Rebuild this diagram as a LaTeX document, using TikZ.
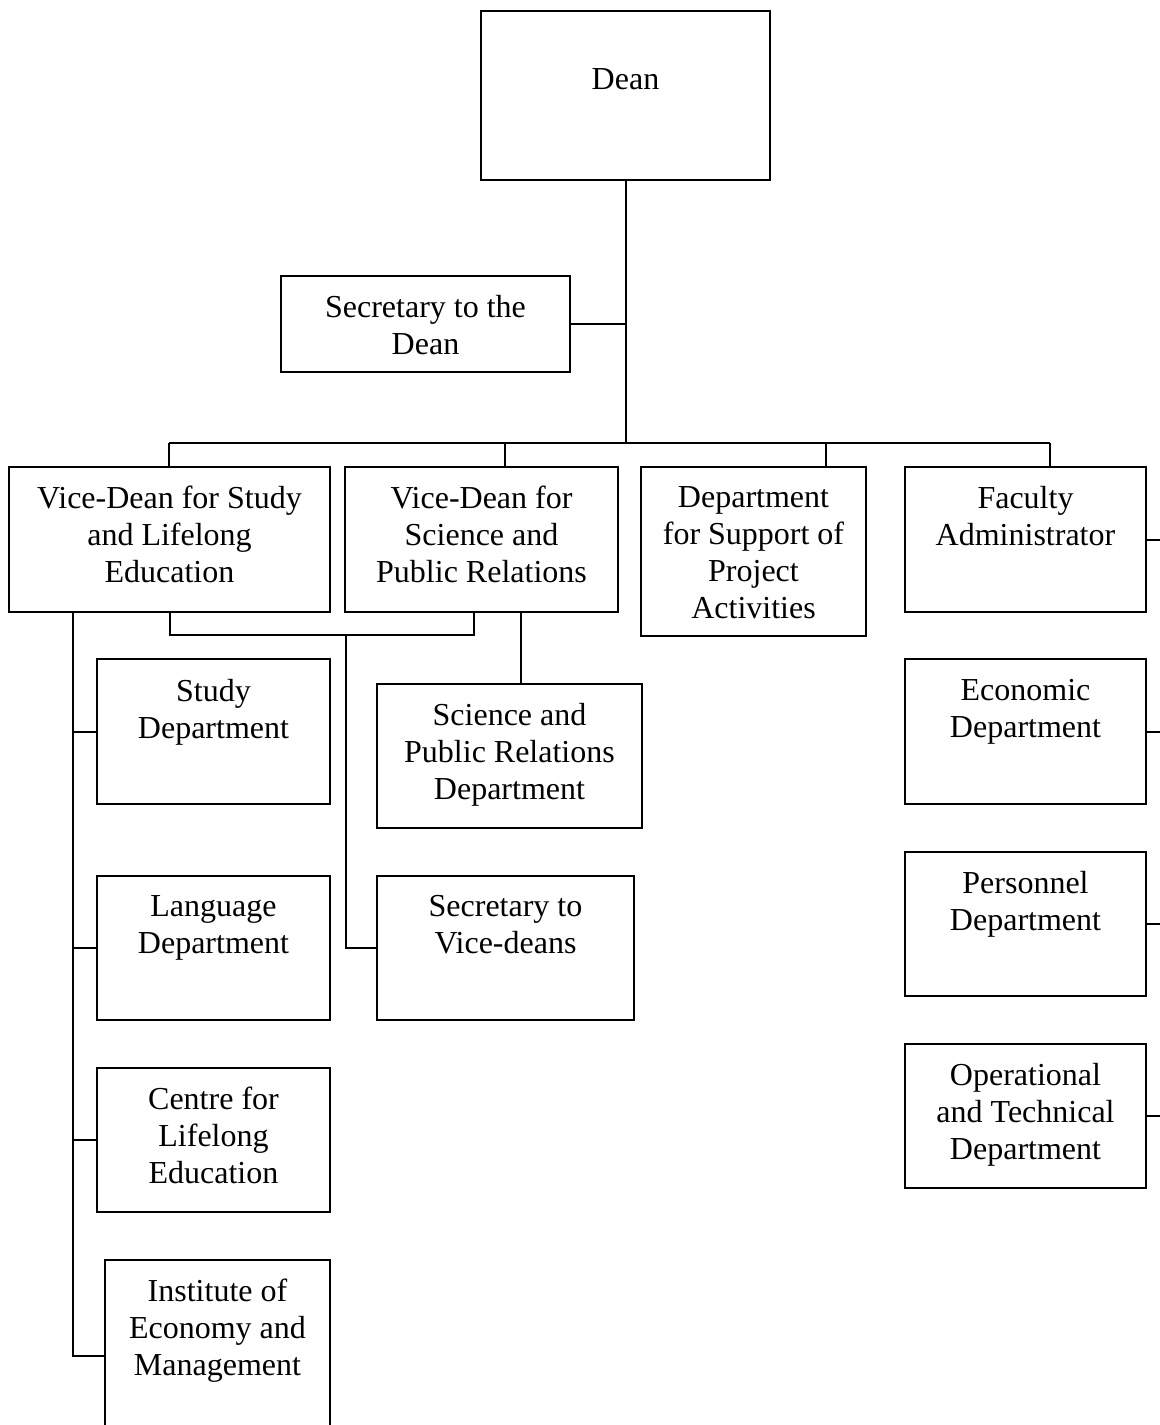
\documentclass[tikz,border=0pt]{standalone}
\usepackage{fontspec}
\setmainfont{Liberation Serif}
\usetikzlibrary{fit,calc}
\tikzset{
  box/.style={draw=black, line width=1.5pt, inner sep=0pt, fill=white},
  lbl/.style={inner sep=0pt, align=center, font=\fontsize{24}{27.75}\selectfont, execute at begin node=\strut},
  conn/.style={draw=black, line width=1.5pt}
}
\newcommand\orgbox[7]{%
  \coordinate (#1-nw) at (#2,#3);
  \coordinate (#1-se) at (#4,#5);
  \node[box, fit=(#1-nw)(#1-se)] (#1) {};
  \node[lbl, anchor=north] (#1-t) at ({(#2+#4)/2},{#6-11}) {#7};
}
\begin{document}
\begin{tikzpicture}[x=0.75pt,y=-0.75pt]
\useasboundingbox (0,0) rectangle (1160,1425);
\clip (0,0) rectangle (1160,1425);
\fill[white] (0,0) rectangle (1160,1425);

\coordinate (busL) at (169,443);
\coordinate (busR) at (1050,443);
\coordinate (d2) at (505,443);
\coordinate (d3) at (826,443);
\coordinate (j1) at (474,635);
\coordinate (j2) at (346,635);
\coordinate (x521) at (521,0);
\coordinate (spine) at (73,0);
\coordinate (redge) at (1160,0);

\orgbox{dean}{481}{11}{770}{180}{74}{Dean}
\orgbox{sec}{281}{276}{570}{372}{306}{Secretary to the\\Dean}
\orgbox{vds}{9}{467}{330}{612}{497}{Vice-Dean for Study\\and Lifelong\\Education}
\orgbox{vdsc}{345}{467}{618}{612}{497}{Vice-Dean for\\Science and\\Public Relations}
\orgbox{dsp}{641}{467}{866}{636}{497}{Department\\for Support of\\Project\\Activities}
\orgbox{fa}{905}{467}{1146}{612}{497}{Faculty\\Administrator}
\orgbox{study}{97}{659}{330}{804}{690}{Study\\Department}
\orgbox{spr}{377}{684}{642}{828}{714}{Science and\\Public Relations\\Department}
\orgbox{lang}{97}{876}{330}{1020}{906}{Language\\Department}
\orgbox{secv}{377}{876}{634}{1020}{906}{Secretary to\\Vice-deans}
\orgbox{centre}{97}{1068}{330}{1212}{1098}{Centre for\\Lifelong\\Education}
\orgbox{inst}{105}{1260}{330}{1452}{1290}{Institute of\\Economy and\\Management}
\orgbox{econ}{905}{659}{1146}{804}{690}{Economic\\Department}
\orgbox{pers}{905}{852}{1146}{996}{882}{Personnel\\Department}
\orgbox{oper}{905}{1044}{1146}{1188}{1074}{Operational\\and Technical\\Department}

% Dean to bus
\draw[conn] (dean.south) -- (dean.south |- busL);
\draw[conn] (sec.east) -- (sec.east -| dean.south);
\draw[conn] (busL) -- (busR);
\draw[conn] (busL) -- (busL |- vds.north);
\draw[conn] (d2) -- (d2 |- vdsc.north);
\draw[conn] (d3) -- (d3 |- dsp.north);
\draw[conn] (busR) -- (busR |- fa.north);

% vice-deans joint
\draw[conn] (vds.south) |- (j1) -- (j1 |- vdsc.south);
\draw[conn] (j2) |- (secv.west);
\draw[conn] (vdsc.south -| x521) -- (spr.north -| x521);

% left spine
\draw[conn] (vds.south -| spine) |- (inst.west);
\draw[conn] (study.west -| spine) -- (study.west);
\draw[conn] (lang.west -| spine) -- (lang.west);
\draw[conn] (centre.west -| spine) -- (centre.west);

% right stubs
\draw[conn] (fa.east) -- (fa.east -| redge);
\draw[conn] (econ.east) -- (econ.east -| redge);
\draw[conn] (pers.east) -- (pers.east -| redge);
\draw[conn] (oper.east) -- (oper.east -| redge);
\end{tikzpicture}
\end{document}
